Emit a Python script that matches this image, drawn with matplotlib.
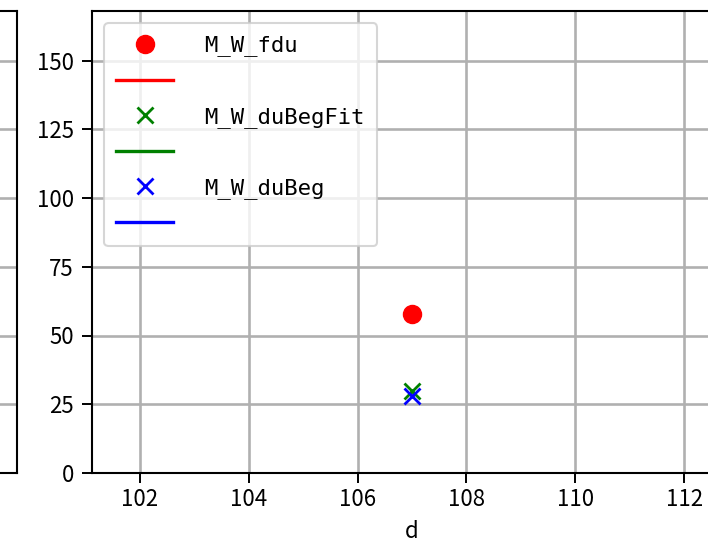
"""
Cropped view of the M_W comparison panel at d = 107:
measured fdu and the duBeg / duBegFit estimates, with their fit lines.
"""
import matplotlib
matplotlib.use("Agg")
import matplotlib.pyplot as plt

plt.rcParams["font.family"] = ["Noto Sans CJK SC", "DejaVu Sans"]

# ------------------------------------------------------------------
# Data
# ------------------------------------------------------------------
d_vals = [107]
m_w_fdu = [58]
m_w_dubegfit = [30]
m_w_dubeg = [28]

# fit lines (nothing of them falls inside the visible window)
fit_d = []
fit_fdu = []
fit_dubegfit = []
fit_dubeg = []

series_labels = ["M_W_fdu", "M_W_duBegFit", "M_W_duBeg"]

W, H = 708, 545
fig = plt.figure(figsize=(W / 100, H / 100), dpi=100)

GRID = dict(color="#b0b0b0", linewidth=1.9)

# neighbouring panel, only its right edge shows
ax0 = fig.add_axes([-300 / W, 72 / H, 317 / W, 462 / H])
ax = fig.add_axes([92 / W, 72 / H, 640 / W, 462 / H], sharey=ax0)

for a in (ax0, ax):
    for s in a.spines.values():
        s.set_linewidth(1.5)
    a.tick_params(length=7, width=1.4, labelsize=16)

ax0.set_xticks([])
ax0.grid(axis="y", **GRID)
ax0.tick_params(axis="y", labelleft=False)

h1, = ax.plot(d_vals, m_w_fdu, "o", color="red", markersize=13)
l1, = ax.plot(fit_d, fit_fdu, "-", color="red", linewidth=2.4)
h2, = ax.plot(d_vals, m_w_dubegfit, "x", color="green", markersize=12, mew=2)
l2, = ax.plot(fit_d, fit_dubegfit, "-", color="green", linewidth=2.4)
h3, = ax.plot(d_vals, m_w_dubeg, "x", color="blue", markersize=12, mew=2)
l3, = ax.plot(fit_d, fit_dubeg, "-", color="blue", linewidth=2.4)

ax.set_xlim(101.12, 112.88)
ax.set_ylim(0, 168)
ax.set_xticks([102, 104, 106, 108, 110, 112])
ax.set_yticks([0, 25, 50, 75, 100, 125, 150])
ax.tick_params(axis="y", pad=6)
ax.tick_params(axis="x", pad=4)
ax.grid(True, **GRID)
ax.set_axisbelow(True)
ax.set_xlabel("d", fontsize=16, labelpad=6)

handles = [h1, l1, h2, l2, h3, l3]
labels = [series_labels[0], "", series_labels[1], "", series_labels[2], ""]
leg = ax.legend(handles, labels, loc="upper left",
                prop={"family": "DejaVu Sans Mono", "size": 16},
                handlelength=2.55, handletextpad=1.4, labelspacing=0.68,
                borderpad=0.55, borderaxespad=0.55)
leg.get_frame().set_linewidth(1.5)

fig.savefig("out.png", dpi=100)
